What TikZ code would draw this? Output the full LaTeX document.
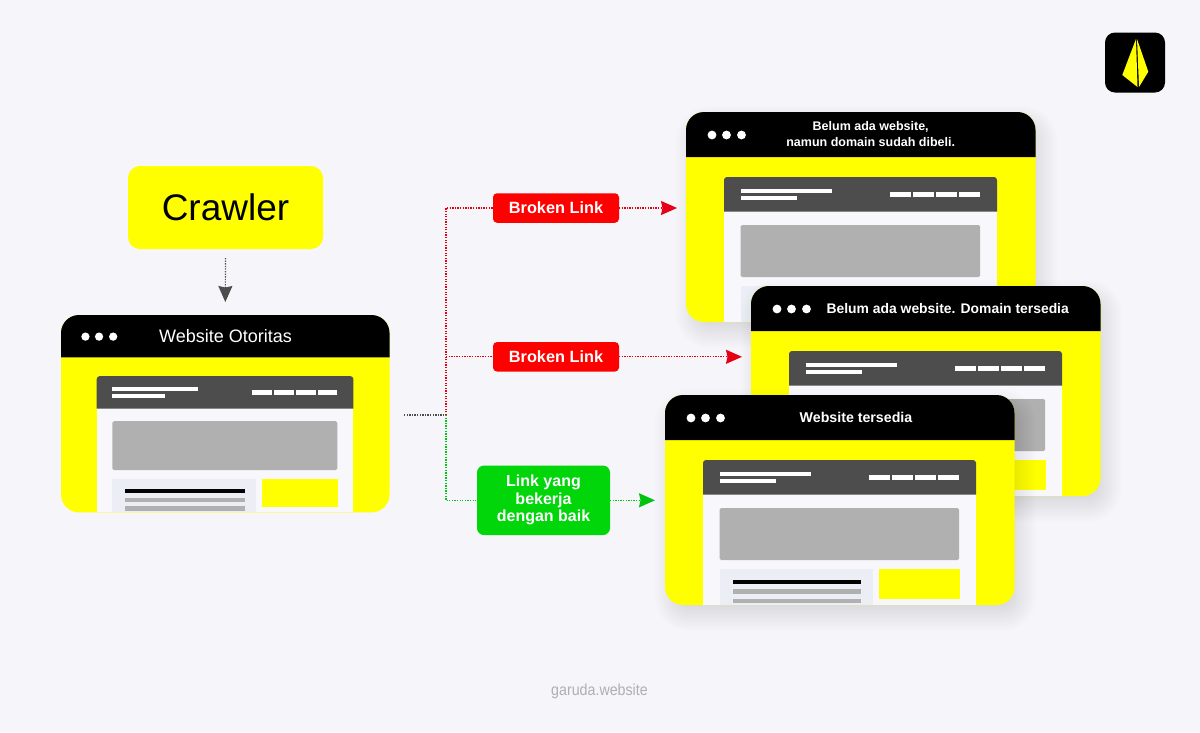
\documentclass[tikz,border=0pt]{standalone}
\usepackage{fontspec}
\setmainfont{Liberation Sans}
\newfontfamily\narrowfont[FakeStretch=0.89]{Liberation Sans}
\usetikzlibrary{arrows.meta}

\definecolor{custcol_page}{RGB}{245, 245, 250}
\definecolor{custcol_yellow}{RGB}{255, 255, 0}
\definecolor{custcol_dark}{RGB}{77, 77, 77}
\definecolor{custcol_gray}{RGB}{176, 176, 176}
\definecolor{custcol_pale}{RGB}{248, 248, 252}
\definecolor{custcol_card}{RGB}{236, 238, 246}
\definecolor{custcol_red}{RGB}{255, 0, 0}
\definecolor{custcol_redline}{RGB}{230, 0, 20}
\definecolor{custcol_green}{RGB}{0, 214, 10}
\definecolor{custcol_greenline}{RGB}{0, 196, 16}

\tikzset{
  winbody/.style={inner sep=0, outer sep=0, anchor=north west, fill=custcol_yellow, rounded corners=18pt},
  wintitle/.style={inner sep=0, outer sep=0, white, align=center},
  tagbox/.style={inner sep=0, outer sep=0, white, align=center, rounded corners=4pt, font=\fontsize{16.3pt}{18.5pt}\bfseries\selectfont},
  linkpath/.style={line width=1.2pt, dash pattern=on 1.3pt off 1.3pt},
  linktip/.style={-{Stealth[inset=1.5pt,length=16pt,width=14pt]}, shorten >=9pt},
}

% name, x, y, scale, title x, title font, title
\newcommand{\browserwin}[7]{
\node[winbody, minimum width={#4*349.5pt}, minimum height={#4*210pt}] (#1) at (#2,#3) {};
\begin{scope}[shift={(#2,#3)}, scale=#4]
\fill [black] (349.5,45) -- (0,45) [rounded corners=18pt] -- (0,0) -- (349.5,0) [sharp corners] -- cycle;
\foreach \dotx in {26,40.5,55.5} \fill [white] (\dotx,23) circle (4.4);
\fill [custcol_pale] (38,95) rectangle (311,210);
\fill [custcol_dark] (311,99.5) -- (38,99.5) [rounded corners=3pt] -- (38,65) -- (311,65) [sharp corners] -- cycle;
\fill [white] (54.5,76.7) rectangle (146,81);
\fill [white] (54.5,84) rectangle (111,88);
\foreach \navx in {203.7,227,250,273} \fill [white] (\navx,80.3) rectangle ++(21,4.4);
\fill [custcol_gray, rounded corners=1.5pt] (54.7,113) rectangle (294,165);
\fill [custcol_card] (54.7,174) rectangle (207.7,210);
\fill [custcol_yellow] (213.7,174) rectangle (295,204);
\fill [black] (67.7,185) rectangle (195.7,189.3);
\fill [custcol_gray] (67.7,194.3) rectangle (195.7,198.7);
\fill [custcol_gray] (67.7,203.7) rectangle (195.7,208);
\node[wintitle, font=#6] (#1title) at (#5,22.5) {#7};
\end{scope}
}

% soft shadow under a large window
\newcommand{\winshadow}[2]{
\foreach \spread in {-8,-6,...,16}
  \fill [black, opacity=0.0065, rounded corners={18pt+\spread*1pt}] (#1+6-\spread,#2+10-\spread) rectangle (#1+355+\spread,#2+220+\spread);
}

\begin{document}
\begin{tikzpicture}[x=1pt,y=-1pt]
\useasboundingbox (0,0) rectangle (1200,732);
\fill [custcol_page] (0,0) rectangle (1200,732);

% logo
\node[inner sep=0, outer sep=0, fill=black, rounded corners=10pt, minimum width=60pt, minimum height=60pt] (logo) at (1135,62.5) {};
\fill [custcol_yellow] (1136,39) -- (1122.3,75) -- (1137.5,87) -- cycle;
\fill [custcol_yellow] (1137,39) -- (1148.3,71.7) -- (1139,87) -- cycle;

% crawler and main window
\node[fill=custcol_yellow, inner sep=0, outer sep=0, rounded corners=12pt, minimum width=195pt, minimum height=83pt, font=\fontsize{37pt}{37pt}\selectfont] (crawler) at (225.5,207.5) {Crawler};
\browserwin{mainwin}{61}{315}{0.94}{175}{\fontsize{18pt}{20pt}\selectfont}{Website Otoritas}

% target windows
\winshadow{686}{112}
\browserwin{winA}{686}{112}{1}{184.7}{\fontsize{12.5pt}{16pt}\bfseries\selectfont}{Belum ada website,\\namun domain sudah dibeli.}
\winshadow{751}{286}
\browserwin{winB}{751}{286}{1}{196.7}{\fontsize{13.9pt}{16pt}\bfseries\selectfont}{Belum ada website. Domain tersedia}
\winshadow{665}{395}
\browserwin{winC}{665}{395}{1}{191}{\fontsize{14.2pt}{16pt}\bfseries\selectfont}{Website tersedia}

% tags
\node[tagbox, fill=custcol_red, minimum width=126pt, minimum height=29.5pt] (brokenA) at (556,208) {Broken Link};
\node[tagbox, fill=custcol_red, minimum width=126pt, minimum height=29.5pt] (brokenB) at (556,356.8) {Broken Link};
\node[tagbox, fill=custcol_green, rounded corners=7pt, minimum width=133pt, minimum height=69.5pt, font=\fontsize{16pt}{17.5pt}\bfseries\selectfont] (linkok) at (543.5,500.3) {Link yang\\bekerja\\dengan baik};
\coordinate (source) at (404,415);
\coordinate (hub) at (446,415);

% connectors
\draw [linkpath, custcol_dark, linktip, shorten <=9pt, shorten >=13pt] (crawler.south) -- (mainwin.north);
\draw [linkpath, custcol_dark] (source) -- (hub);
\draw [linkpath, custcol_redline] (hub) |- (brokenA.west);
\draw [linkpath, custcol_redline] (hub |- brokenB.west) -- (brokenB.west);
\draw [linkpath, custcol_greenline] (hub) |- (linkok.west);
\draw [linkpath, custcol_redline, linktip] (brokenA.east) -- (brokenA.east -| winA.west);
\draw [linkpath, custcol_redline, linktip] (brokenB.east) -- (brokenB.east -| winB.west);
\draw [linkpath, custcol_greenline, linktip, shorten >=10pt] (linkok.east) -- (linkok.east -| winC.west);

% footer
\node[inner sep=0, outer sep=0, custcol_gray, font=\fontsize{16pt}{16pt}\narrowfont] (footer) at (599.5,691) {garuda.website};
\end{tikzpicture}
\end{document}
